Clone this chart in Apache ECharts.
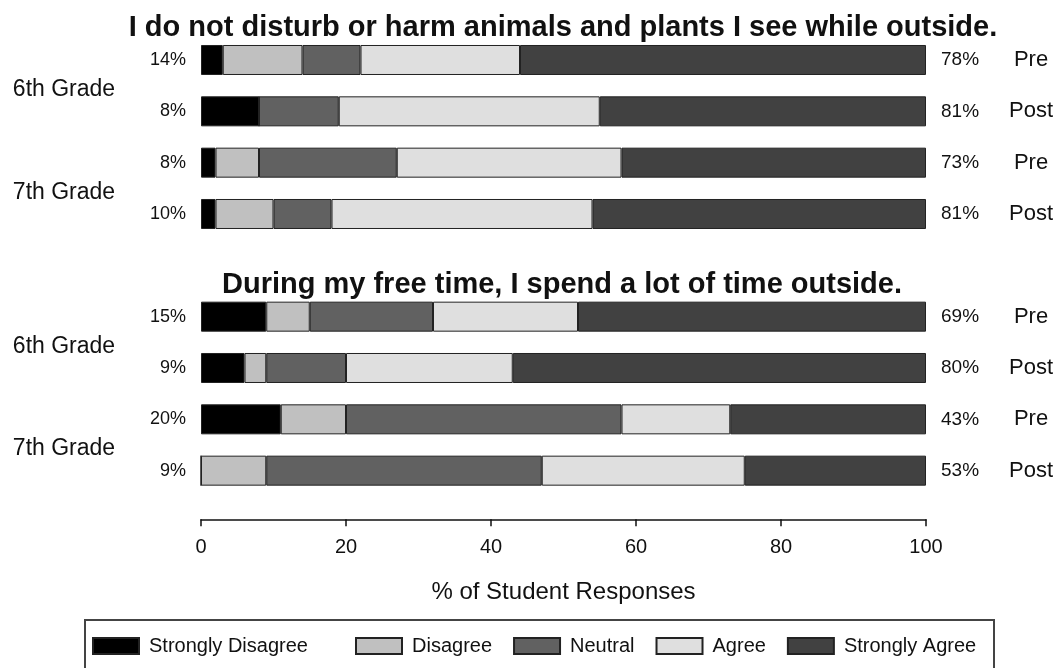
<!DOCTYPE html>
<html>
<head>
<meta charset="utf-8">
<script src="https://cdn.jsdelivr.net/npm/echarts@6/dist/echarts.min.js"></script>
<style>
html,body{margin:0;padding:0;background:#fff;}
#chart{width:1058px;height:668px;}
</style>
</head>
<body>
<div id="chart"></div>
<script>
// ---- data ----
var rowIds = ['q1-6-pre','q1-6-post','q1-7-pre','q1-7-post','gap','q2-6-pre','q2-6-post','q2-7-pre','q2-7-post'];
var seriesNames = ['Strongly Disagree','Disagree','Neutral','Agree','Strongly Agree'];
var stronglyDisagree = [3, 8, 2, 2, '-', 9, 6, 11, 0];
var disagree         = [11, 0, 6, 8, '-', 6, 3, 9, 9];
var neutral          = [8, 11, 19, 8, '-', 17, 11, 38, 38];
var agree            = [22, 36, 31, 36, '-', 20, 23, 15, 28];
var stronglyAgree    = [56, 45, 42, 46, '-', 48, 57, 27, 25];
var leftPct  = ['14%','8%','8%','10%','','15%','9%','20%','9%'];
var rightPct = ['78%','81%','73%','81%','','69%','80%','43%','53%'];
var phase    = ['Pre','Post','Pre','Post','','Pre','Post','Pre','Post'];
var gradeLabels = [
  {text:'6th Grade', rows:[0,1]},
  {text:'7th Grade', rows:[2,3]},
  {text:'6th Grade', rows:[5,6]},
  {text:'7th Grade', rows:[7,8]}
];
var titles = [
  'I do not disturb or harm animals and plants I see while outside.',
  'During my free time, I spend a lot of time outside.'
];
var xTitle = '% of Student Responses';

var FONT = "'Liberation Sans', Arial, sans-serif";
var colors = ['#000000','#c0c0c0','#616161','#dfdfdf','#414141'];
var values = [stronglyDisagree, disagree, neutral, agree, stronglyAgree];

var chart = echarts.init(document.getElementById('chart'), null, {renderer:'canvas'});

function catAxis(labels, pos, margin, fontSize, align) {
  return {
    type:'category', data: rowIds, inverse:true, position:pos,
    axisLine:{show:false}, axisTick:{show:false}, splitLine:{show:false},
    axisLabel:{
      show:true, margin:margin, fontSize:fontSize, color:'#111', fontFamily:FONT,
      align:align,
      formatter:function(v, i){ return labels[i]; }
    }
  };
}

function legendPart(left, names) {
  return {
    show:true, left:left, top:636, orient:'horizontal', padding:0,
    icon:'rect',
    itemWidth:46, itemHeight:16, itemGap:21,
    textStyle:{fontSize:20, color:'#111', fontFamily:FONT, padding:[0,0,0,5]},
    data: names,
    selectedMode:false
  };
}

var option = {
  animation:false,
  backgroundColor:'#ffffff',
  textStyle:{fontFamily:FONT},
  grid:{left:201, right:132, top:34.33, height:462, containLabel:false},
  xAxis:{
    type:'value', min:0, max:100, interval:20, position:'bottom', offset:23,
    axisLine:{show:true, lineStyle:{color:'#111', width:1.5}},
    axisTick:{show:true, inside:false, length:7, lineStyle:{color:'#111', width:1.5}},
    axisLabel:{fontSize:20, color:'#111', margin:18, fontFamily:FONT},
    splitLine:{show:false},
    name:xTitle, nameLocation:'middle', nameGap:61,
    nameTextStyle:{fontSize:24, color:'#111', fontFamily:FONT}
  },
  yAxis:[
    catAxis(leftPct, 'left', 15, 18, 'right'),
    catAxis(rightPct, 'right', 15, 19, 'left'),
    catAxis(phase, 'right', 105, 22, 'center')
  ],
  legend:[
    legendPart(92, seriesNames.slice(0, 1)),
    legendPart(355, seriesNames.slice(1))
  ],
  series: seriesNames.map(function(n, i){
    return {
      name:n, type:'bar', stack:'total', yAxisIndex:0, barWidth:30,
      data: values[i],
      itemStyle:{color:colors[i], borderColor:'#222', borderWidth:1},
      emphasis:{disabled:true}
    };
  })
};
chart.setOption(option);

// text placed using the axis scale
var graphics = [];
gradeLabels.forEach(function(g){
  var y0 = chart.convertToPixel({yAxisIndex:0}, rowIds[g.rows[0]]);
  var y1 = chart.convertToPixel({yAxisIndex:0}, rowIds[g.rows[1]]);
  graphics.push({type:'text', x:64, y:(y0+y1)/2 + 4,
    style:{text:g.text, font:'23px ' + FONT, fill:'#111', textAlign:'center', textVerticalAlign:'middle'}});
});
var t1y = chart.convertToPixel({yAxisIndex:0}, rowIds[0]) - 32;
var t2y = chart.convertToPixel({yAxisIndex:0}, rowIds[4]) + 20;
graphics.push({type:'text', x:563, y:t1y,
  style:{text:titles[0], font:'bold 29px ' + FONT, fill:'#111', textAlign:'center', textVerticalAlign:'middle'}});
graphics.push({type:'text', x:562, y:t2y,
  style:{text:titles[1], font:'bold 29px ' + FONT, fill:'#111', textAlign:'center', textVerticalAlign:'middle'}});
graphics.push({type:'rect', shape:{x:85, y:620, width:909, height:80},
  style:{fill:'none', stroke:'#444', lineWidth:2}, z:-1});
chart.setOption({graphic:graphics});
</script>
</body>
</html>
